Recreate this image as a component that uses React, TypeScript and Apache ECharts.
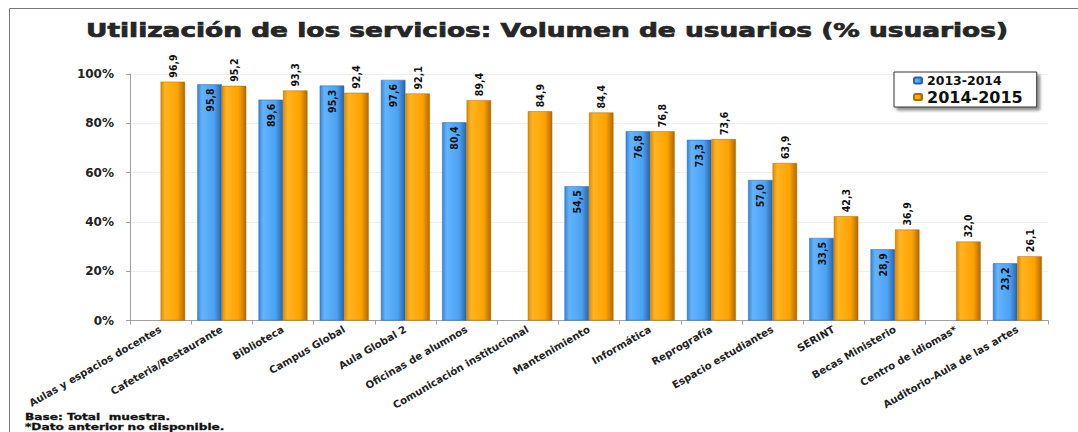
import React, { useEffect, useRef } from "react";
import * as echarts from "echarts";

const categories = [
  "Aulas y espacios docentes",
  "Cafeteria/Restaurante",
  "Biblioteca",
  "Campus Global",
  "Aula Global 2",
  "Oficinas de alumnos",
  "Comunicación institucional",
  "Mantenimiento",
  "Informática",
  "Reprografía",
  "Espacio estudiantes",
  "SERINT",
  "Becas Ministerio",
  "Centro de idiomas*",
  "Auditorio-Aula de las artes",
];
const serie2013 = [null, 95.8, 89.6, 95.3, 97.6, 80.4, null, 54.5, 76.8, 73.3, 57.0, 33.5, 28.9, null, 23.2];
const serie2014 = [96.9, 95.2, 93.3, 92.4, 92.1, 89.4, 84.9, 84.4, 76.8, 73.6, 63.9, 42.3, 36.9, 32.0, 26.1];
const seriesNames = ["2013-2014", "2014-2015"];
const yTicks = [0, 20, 40, 60, 80, 100];

const TITLE = "Utilización de los servicios: Volumen de usuarios (% usuarios)";
const NOTE1 = "Base: Total  muestra.";
const NOTE2 = "*Dato anterior no disponible.";

const fmt = (v: number) => v.toFixed(1).replace(".", ",");
const LABEL_FONT = "'Liberation Sans Narrow', 'DejaVu Sans Condensed', sans-serif";
const BOLD_FONT = "'DejaVu Sans', Verdana, sans-serif";

const blueGrad = new echarts.graphic.LinearGradient(0, 0, 1, 0, [
  { offset: 0, color: "#3a84d6" },
  { offset: 0.18, color: "#62b4ff" },
  { offset: 0.7, color: "#4ba2f2" },
  { offset: 1, color: "#2a63a8" },
]);
const orangeGrad = new echarts.graphic.LinearGradient(0, 0, 1, 0, [
  { offset: 0, color: "#e08c00" },
  { offset: 0.18, color: "#ffb420" },
  { offset: 0.7, color: "#ffa200" },
  { offset: 1, color: "#b06a00" },
]);

export default function App() {
  const ref = useRef<HTMLDivElement>(null);
  useEffect(() => {
    if (!ref.current) return;
    const chart = echarts.init(ref.current, null, { renderer: "svg" });
    chart.setOption({
      animation: false,
      backgroundColor: "#ffffff",
      legend: {
        data: seriesNames,
        orient: "vertical",
        left: 894,
        top: 72,
        itemWidth: 8,
        itemHeight: 6,
        itemGap: 2,
        padding: [2, 14, 2, 19],
        backgroundColor: "#ffffff",
        borderColor: "#333333",
        borderWidth: 1,
        shadowColor: "rgba(0,0,0,0.45)",
        shadowBlur: 3,
        shadowOffsetX: 3,
        shadowOffsetY: 3,
        formatter: (name: string) => (name === seriesNames[0] ? `{a|${name}}` : `{b|${name}}`),
        textStyle: {
          fontFamily: BOLD_FONT,
          fontWeight: "bold",
          color: "#111111",
          rich: {
            a: { fontFamily: BOLD_FONT, fontWeight: "bold", fontSize: 12.5, color: "#111111" },
            b: { fontFamily: BOLD_FONT, fontWeight: "bold", fontSize: 16, color: "#111111" },
          },
        },
      },
      grid: { left: 130, right: 30, top: 74, bottom: 111.5, containLabel: false },
      xAxis: {
        type: "category",
        data: categories,
        axisLine: { lineStyle: { color: "#a0a0a0" } },
        axisTick: { show: true, length: 4, lineStyle: { color: "#a0a0a0" } },
        axisLabel: {
          interval: 0,
          rotate: 30,
          margin: 8,
          fontFamily: BOLD_FONT,
          fontWeight: "bold",
          fontSize: 10.2,
          color: "#222222",
        },
      },
      yAxis: {
        type: "value",
        min: yTicks[0],
        max: yTicks[yTicks.length - 1],
        interval: 20,
        axisLine: { show: true, lineStyle: { color: "#a0a0a0" } },
        axisTick: { show: true, length: 4, lineStyle: { color: "#a0a0a0" } },
        splitLine: { show: true, lineStyle: { color: "#efefef" } },
        axisLabel: {
          formatter: (v: number) => `${v}%`,
          fontFamily: BOLD_FONT,
          fontWeight: "bold",
          fontSize: 12,
          color: "#222222",
          margin: 16,
        },
      },
      series: [
        {
          name: seriesNames[0],
          type: "bar",
          data: serie2013,
          barGap: "0%",
          barCategoryGap: "20%",
          itemStyle: { color: blueGrad, borderColor: "#2a63a8", borderWidth: 0.5 },
          label: {
            show: true,
            position: "insideTop",
            rotate: 90,
            align: "right",
            verticalAlign: "middle",
            distance: 4,
            formatter: (p: any) => fmt(p.value),
            fontFamily: LABEL_FONT,
            fontWeight: "bold",
            fontSize: 10.5,
            color: "#111111",
          },
        },
        {
          name: seriesNames[1],
          type: "bar",
          data: serie2014,
          barGap: "0%",
          barCategoryGap: "20%",
          itemStyle: { color: orangeGrad, borderColor: "#b06a00", borderWidth: 0.5 },
          label: {
            show: true,
            position: "top",
            rotate: 90,
            align: "left",
            verticalAlign: "middle",
            distance: 4,
            formatter: (p: any) => fmt(p.value),
            fontFamily: LABEL_FONT,
            fontWeight: "bold",
            fontSize: 10.5,
            color: "#111111",
          },
        },
      ],
      graphic: [
        {
          type: "rect",
          shape: { x: 9.5, y: 8.5, width: 1200, height: 600 },
          style: { fill: "none", stroke: "#777777", lineWidth: 1 },
          silent: true,
        },
        {
          type: "text",
          x: 547,
          y: 30,
          scaleX: 1.39,
          style: {
            text: TITLE,
            x: 0,
            y: 0,
            align: "center",
            verticalAlign: "middle",
            font: `bold 19px ${BOLD_FONT}`,
            fill: "#262626",
            stroke: "#262626",
            lineWidth: 0.7,
          },
        },
        {
          type: "text",
          x: 25,
          y: 413,
          scaleX: 1.35,
          style: { text: NOTE1, x: 0, y: 0, font: `bold 9px ${BOLD_FONT}`, fill: "#111111", stroke: "#111111", lineWidth: 0.3 },
        },
        {
          type: "text",
          x: 25,
          y: 423,
          scaleX: 1.35,
          style: { text: NOTE2, x: 0, y: 0, font: `bold 9px ${BOLD_FONT}`, fill: "#111111", stroke: "#111111", lineWidth: 0.3 },
        },
      ],
    });
    return () => chart.dispose();
  }, []);
  return (
    <div
      ref={ref}
      style={{ position: "absolute", left: 0, top: 0, width: 1078, height: 432 }}
    />
  );
}
